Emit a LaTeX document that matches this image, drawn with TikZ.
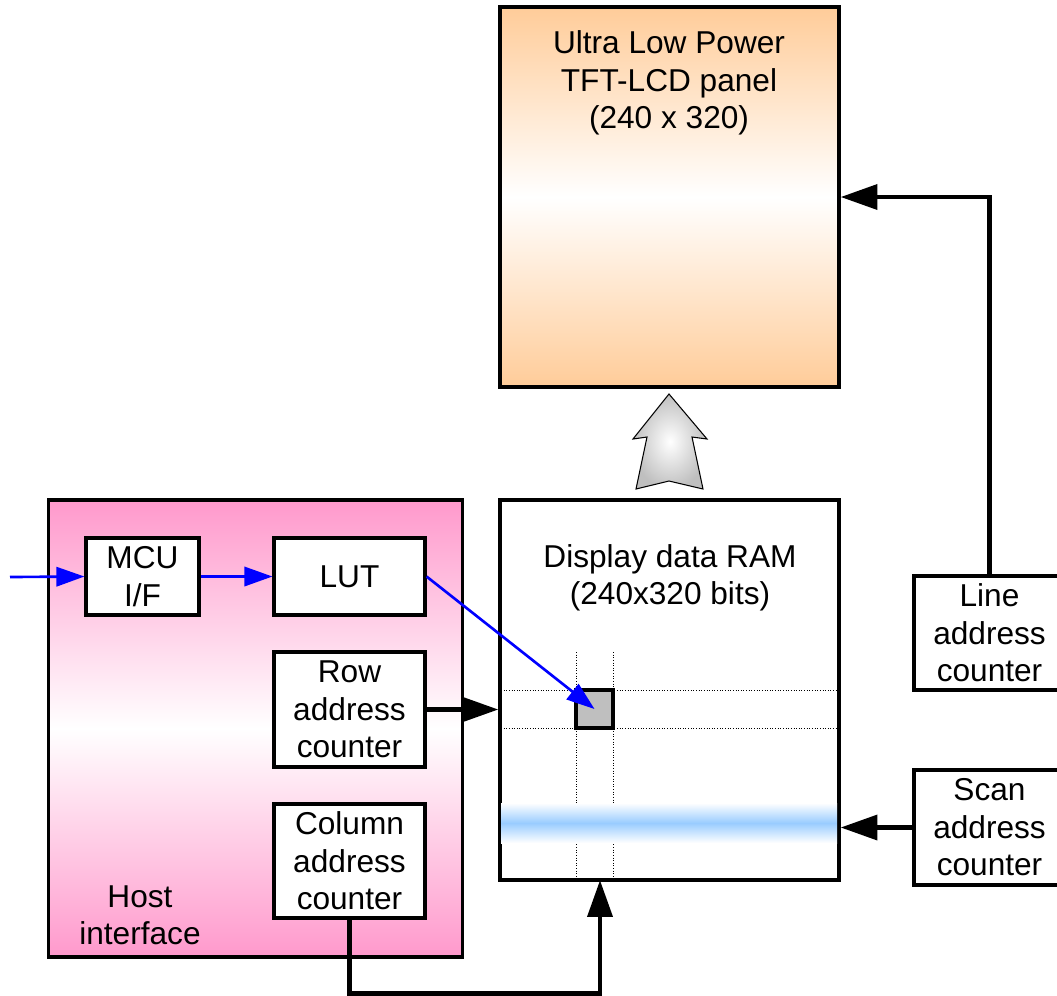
\documentclass[tikz,border=0pt]{standalone}
\usepackage{fontspec}
\setmainfont{Liberation Sans}
\usetikzlibrary{arrows.meta}

\definecolor{peach}{HTML}{FFCC99}
\definecolor{hostpink}{HTML}{FF99CC}
\definecolor{scanblue}{HTML}{99CCFF}

\tikzset{
  blk/.style={draw, line width=1.8pt, fill=white, inner sep=0pt, align=center},
  gridline/.style={densely dotted, line width=0.5pt},
  bluearr/.style={draw=blue, line width=1.5pt, -{Triangle[length=16pt,width=11pt]}},
  busarr/.style={draw=black, line width=2.8pt, -{Triangle[length=21pt,width=14pt]}}
}

\begin{document}
\begin{tikzpicture}[x=0.02cm,y=-0.02cm,font=\fontsize{18}{21.3}\selectfont]
\useasboundingbox (0,0) rectangle (1057,995);

% LCD panel
\node[blk, top color=peach, bottom color=peach, middle color=white,
  minimum width=6.78cm, minimum height=7.6cm] (panel) at (669.5,197) {};
\node[align=center] (paneltxt) at (669,83) {Ultra Low Power\\TFT-LCD panel\\(240 x 320)};

% transfer arrow
\shadedraw[line width=0.6pt, inner color=white, outer color=gray!50]
  (669,394) -- (707,439) -- (692,437) -- (703,489) -- (669,481)
  -- (636,489) -- (647,437) -- (633,439) -- cycle;

% display RAM
\node[blk, minimum width=6.78cm, minimum height=7.6cm] (ram) at (669.5,690) {};
\node[align=center] (ramtxt) at (670,578) {Display data RAM\\(240x320 bits)};
\draw[gridline] (501,690) -- (837,690);
\draw[gridline] (501,728) -- (837,728);
\draw[gridline] (576,652) -- (576,879);
\draw[gridline] (613,652) -- (613,879);
\fill[top color=white, bottom color=white, middle color=scanblue] (501,803) rectangle (837,843);
\node[draw, line width=1.8pt, fill=gray!50, minimum width=0.74cm, minimum height=0.76cm] (cell) at (594.5,709) {};

% host interface
\node[blk, top color=hostpink, bottom color=hostpink, middle color=white,
  minimum width=8.28cm, minimum height=9.14cm] (host) at (255.5,728.5) {};
\node[align=center] (hosttxt) at (140,915) {Host\\interface};
\node[blk, minimum width=2.26cm, minimum height=1.54cm] (mcu) at (142.5,576.5) {MCU\\I/F};
\node[blk, minimum width=3.02cm, minimum height=1.54cm] (lut) at (349.5,576.5) {LUT};
\node[blk, minimum width=3.02cm, minimum height=2.3cm] (rowcnt) at (349.5,709.5) {Row\\address\\counter};
\node[blk, minimum width=3.02cm, minimum height=2.28cm] (colcnt) at (349.5,861) {Column\\address\\counter};

% counters on the right
\node[blk, minimum width=3.02cm, minimum height=2.28cm] (linecnt) at (989.5,633) {Line\\address\\counter};
\node[blk, minimum width=3.02cm, minimum height=2.3cm] (scancnt) at (989.5,827.5) {Scan\\address\\counter};

% connections
\coordinate (hostin) at (10,577);
\coordinate (colin) at (600,880);
\draw[bluearr] (hostin) -- (mcu.west);
\draw[bluearr] (mcu.east) -- (lut.west);
\draw[bluearr] (lut.east) -- (cell.center);
\draw[busarr] (rowcnt.east) -- (rowcnt.east -| ram.west);
\draw[busarr] (colcnt.south) -- ++(0,74) -| (colin);
\draw[busarr] (linecnt.north) |- (panel.east);
\draw[busarr] (scancnt.west) -- (scancnt.west -| ram.east);
\end{tikzpicture}
\end{document}
